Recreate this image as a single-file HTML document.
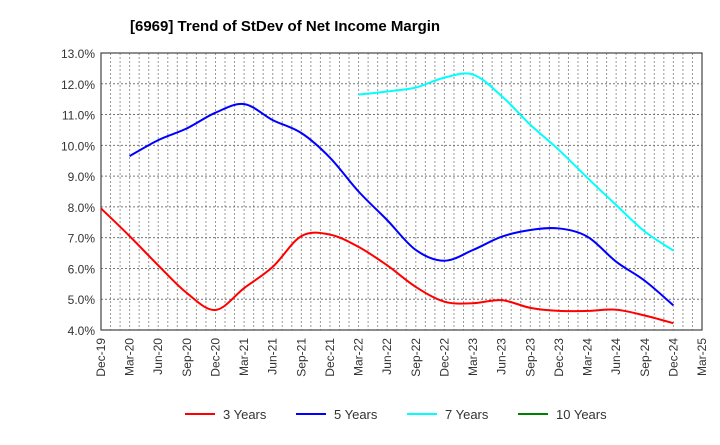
<!DOCTYPE html>
<html><head><meta charset="utf-8"><style>
body{margin:0;background:#fff;font-family:"Liberation Sans",Arial,sans-serif;}
svg text{font-family:"Liberation Sans",Arial,sans-serif;}
</style></head><body>
<svg id="chart" width="720" height="440" xmlns="http://www.w3.org/2000/svg">
<text x="130" y="31" font-size="15" font-weight="bold" fill="#000">[6969]  Trend of StDev of Net Income Margin</text>
<g id="grid"></g><g id="axes"></g><g id="series"></g><g id="legend"></g>
</svg>
<script>
const xLabels=["Dec-19","Mar-20","Jun-20","Sep-20","Dec-20","Mar-21","Jun-21","Sep-21","Dec-21","Mar-22","Jun-22","Sep-22","Dec-22","Mar-23","Jun-23","Sep-23","Dec-23","Mar-24","Jun-24","Sep-24","Dec-24","Mar-25"];
const yTicks=[4,5,6,7,8,9,10,11,12,13];
const s3=[7.95,7.05,6.1,5.2,4.65,5.36,6.05,7.05,7.1,6.7,6.1,5.4,4.92,4.87,4.97,4.72,4.62,4.62,4.66,4.47,4.22];
const s5=[null,9.65,10.17,10.55,11.06,11.34,10.82,10.4,9.6,8.5,7.57,6.6,6.25,6.6,7.03,7.25,7.3,7.03,6.22,5.6,4.8];
const s7=[null,null,null,null,null,null,null,null,null,11.65,11.75,11.88,12.2,12.3,11.6,10.67,9.85,8.94,8.06,7.2,6.58];
const s10=[];
const seriesNames=["3 Years","5 Years","7 Years","10 Years"];
const colors=["#ff0000","#0000ff","#00ffff","#008000"];
const L=101,R=702,T=53,B=330,NS="http://www.w3.org/2000/svg";
const xs=i=>L+i*(R-L)/21;
const ys=v=>B-(v-4)/9*(B-T);
function mk(tag,attrs,parent){const e=document.createElementNS(NS,tag);for(const k in attrs)e.setAttribute(k,attrs[k]);document.getElementById(parent).appendChild(e);return e;}
// monthly vertical grid
for(let m=1;m<63;m++){const x=L+m*(R-L)/63;const e=mk('line',{x1:x,x2:x,y1:T,y2:B,stroke:'#999','stroke-dasharray':'2,2','stroke-width':1},'grid');}
yTicks.forEach(v=>{const y=ys(v);
 if(v>4&&v<13){const g=mk('line',{x1:L,x2:R,y1:y,y2:y,stroke:'#777','stroke-dasharray':'2,2','stroke-width':1},'grid');}
 const t=mk('text',{x:L-6,y:y+5,'text-anchor':'end','font-size':12,fill:'#333'},'axes');t.textContent=v.toFixed(1)+'%';
 });
xLabels.forEach((lb,i)=>{const x=xs(i);const t=mk('text',{x:x+4,y:B+8,'text-anchor':'end','font-size':12,fill:'#333',transform:`rotate(-90 ${x+4} ${B+8})`},'axes');t.textContent=lb;
 });
const fr=mk('rect',{x:L,y:T,width:R-L,height:B-T,fill:'none',stroke:'#444','stroke-width':1.2},'axes');

function path(arr){const p=[];arr.forEach((v,i)=>{if(v!=null)p.push([xs(i),ys(v)]);});if(p.length<2)return '';
 let d=`M${p[0][0]},${p[0][1]}`;for(let i=0;i<p.length-1;i++){const p0=p[Math.max(0,i-1)],p1=p[i],p2=p[i+1],p3=p[Math.min(p.length-1,i+2)];
 const c1=[p1[0]+(p2[0]-p0[0])/6,p1[1]+(p2[1]-p0[1])/6],c2=[p2[0]-(p3[0]-p1[0])/6,p2[1]-(p3[1]-p1[1])/6];
 d+=` C${c1[0]},${c1[1]} ${c2[0]},${c2[1]} ${p2[0]},${p2[1]}`;}return d;}
[s3,s5,s7,s10].forEach((s,k)=>{const d=path(s);if(!d)return;const e=mk('path',{d:d,fill:'none',stroke:colors[k],'stroke-width':2},'series');
 });
const lx=[185,296,407,518];
seriesNames.forEach((n,k)=>{const l=mk('line',{x1:lx[k],x2:lx[k]+30,y1:414,y2:414,stroke:colors[k],'stroke-width':2},'legend');
 
 const t=mk('text',{x:lx[k]+38,y:419,'font-size':13,fill:'#333'},'legend');t.textContent=n;
 });
</script>
</body></html>
